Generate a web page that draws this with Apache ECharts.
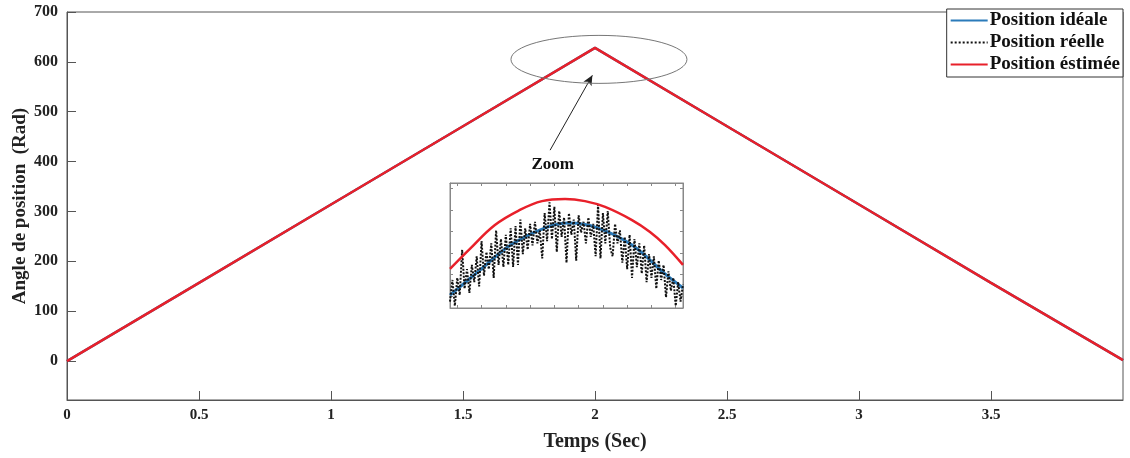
<!DOCTYPE html>
<html>
<head>
<meta charset="utf-8">
<script src="https://cdn.jsdelivr.net/npm/echarts@6/dist/echarts.min.js"></script>
<style>
  html, body { margin: 0; padding: 0; background: #fff; }
  #chart { width: 1130px; height: 458px; }
</style>
</head>
<body>
<div id="chart"></div>
<script>
// ---------- data ----------
const seriesNames = ['Position idéale', 'Position réelle', 'Position éstimée'];
const mainTime = [0, 0.5, 1, 1.5, 2, 2.5, 3, 3.5, 4];
const mainIdeal = [0, 157, 314, 471, 628, 471, 314, 157, 2];
const mainReal = [0, 157, 314, 471, 628, 471, 314, 157, 2];
const mainEstimated = [0, 157, 314, 471, 628, 471, 314, 157, 2];
const yTickValues = [0, 100, 200, 300, 400, 500, 600, 700];

// inset (zoom around the peak), sample index on x
const insetIdealX = [0, 12, 25, 39, 49, 61, 75, 88.6, 96];
const insetIdealY = [6, 17.2, 29.2, 37.1, 39.4, 37.1, 29.2, 15.8, 9.3];
const insetEstX = [0, 8.2, 18.5, 28.8, 37.9, 47.4, 55.6, 63.9, 75, 82.4, 88.6, 96];
const insetEstY = [18.1, 27.4, 38.5, 45.5, 49.6, 50.6, 49.6, 46.9, 40.8, 35.3, 29.2, 20.0];
const insetRealY = [3, 13, 1, 14, 6, 27, 9, 18, 7, 20, 12, 24, 10, 31, 15, 26, 18, 30, 14, 36,
  20, 32, 19, 34, 20, 37, 19, 38, 20, 41, 25, 37, 27, 39, 29, 40, 30, 36, 23, 44,
  31, 49, 32, 47, 26, 45, 33, 42, 21, 44, 34, 41, 22, 43, 35, 40, 30, 42, 33, 39,
  24, 48, 23, 44, 30, 45, 28, 24, 39, 30, 36, 21, 33, 18, 34, 14, 32, 19, 30, 16,
  29, 12, 25, 14, 24, 9, 22, 13, 20, 5, 17, 8, 14, 1, 12, 3, 11];
const insetXTicks = [3, 13, 23, 33, 43, 53, 63, 73, 83, 93];
const insetYTicks = [5.5, 15.5, 25.5, 35.5, 45.5, 55.5];

// annotation anchors (data coordinates of main plot)
const zoomEllipseCenter = [2.015, 605];
const zoomArrowFrom = [1.83, 423];
const zoomArrowTo = [1.99, 573];
const zoomTextAt = [1.84, 393];

// ---------- chart ----------
const FONT = "'Liberation Serif', 'Times New Roman', serif";
const RED = '#e8202a', BLUE = '#2b7bba', BLACK = '#111';
const pairs = (xs, ys) => xs.map((x, i) => [x, ys[i]]);

const chart = echarts.init(document.getElementById('chart'));
const option = {
  animation: false,
  backgroundColor: '#fff',
  textStyle: { fontFamily: FONT },
  legend: {
    data: seriesNames,
    orient: 'vertical',
    right: 7, top: 9,
    backgroundColor: '#fff',
    borderColor: '#333', borderWidth: 1,
    padding: [2, 3, 3, 3],
    itemGap: 3,
    itemWidth: 37, itemHeight: 12,
    itemStyle: { opacity: 0 },
    textStyle: { fontFamily: FONT, fontWeight: 'bold', fontSize: 19, lineHeight: 19, color: '#111', padding: [0, 0, 0, -3] }
  },
  grid: [
    { left: 67, right: 7, top: 12, bottom: 58, show: true, borderColor: '#555', borderWidth: 1, outerBoundsMode: 'none' },
    { left: 450, top: 183, width: 233, height: 125, show: true, borderColor: '#888', borderWidth: 1, backgroundColor: '#fff', z: 5, outerBoundsMode: 'none' }
  ],
  xAxis: [
    {
      type: 'value', gridIndex: 0, min: 0, max: 4, interval: 0.5,
      name: 'Temps (Sec)', nameLocation: 'middle', nameGap: 32,
      nameTextStyle: { fontFamily: FONT, fontWeight: 'bold', fontSize: 20, color: '#222' },
      axisLine: { onZero: false, lineStyle: { color: '#555' } },
      axisTick: { inside: true, length: 9, lineStyle: { color: '#555' } },
      axisLabel: { showMaxLabel: false, margin: 8, fontFamily: FONT, fontWeight: 'bold', fontSize: 15, color: '#222' },
      splitLine: { show: false }
    },
    {
      type: 'value', gridIndex: 1, min: 0, max: 96, position: 'bottom',
      axisLine: { onZero: false, lineStyle: { color: '#888' } },
      axisTick: { inside: true, length: 3, customValues: insetXTicks, lineStyle: { color: '#888' } },
      axisLabel: { show: false }, splitLine: { show: false }, z: 6
    },
    {
      type: 'value', gridIndex: 1, min: 0, max: 96, position: 'top',
      axisLine: { onZero: false, lineStyle: { color: '#888' } },
      axisTick: { inside: true, length: 3, customValues: insetXTicks, lineStyle: { color: '#888' } },
      axisLabel: { show: false }, splitLine: { show: false }, z: 6
    }
  ],
  yAxis: [
    {
      type: 'value', gridIndex: 0, min: -78, max: 700,
      name: 'Angle de position  (Rad)', nameLocation: 'middle', nameGap: 37, nameRotate: 90,
      nameMoveOverlap: false,
      nameTextStyle: { fontFamily: FONT, fontWeight: 'bold', fontSize: 19, color: '#222' },
      axisLine: { show: true, onZero: false, lineStyle: { color: '#555' } },
      axisTick: { show: true, inside: true, length: 9, customValues: yTickValues, lineStyle: { color: '#555' } },
      axisLabel: { customValues: yTickValues, margin: 9, fontFamily: FONT, fontWeight: 'bold', fontSize: 16, color: '#222' },
      splitLine: { show: false }
    },
    {
      type: 'value', gridIndex: 1, min: 0, max: 58, position: 'left',
      axisLine: { show: true, onZero: false, lineStyle: { color: '#888' } },
      axisTick: { show: true, inside: true, length: 3, customValues: insetYTicks, lineStyle: { color: '#888' } },
      axisLabel: { show: false }, splitLine: { show: false }, z: 6
    },
    {
      type: 'value', gridIndex: 1, min: 0, max: 58, position: 'right',
      axisLine: { show: true, onZero: false, lineStyle: { color: '#888' } },
      axisTick: { show: true, inside: true, length: 3, customValues: insetYTicks, lineStyle: { color: '#888' } },
      axisLabel: { show: false }, splitLine: { show: false }, z: 6
    }
  ],
  series: [
    { name: seriesNames[0], type: 'line', xAxisIndex: 0, yAxisIndex: 0, data: pairs(mainTime, mainIdeal),
      symbol: 'none', lineStyle: { color: BLUE, width: 2.5 }, itemStyle: { color: BLUE }, z: 2 },
    { name: seriesNames[1], type: 'line', xAxisIndex: 0, yAxisIndex: 0, data: pairs(mainTime, mainReal),
      symbol: 'none', lineStyle: { color: BLACK, width: 1.5, type: 'dotted' }, itemStyle: { color: BLACK }, z: 3 },
    { name: seriesNames[2], type: 'line', xAxisIndex: 0, yAxisIndex: 0, data: pairs(mainTime, mainEstimated),
      symbol: 'none', lineStyle: { color: RED, width: 2.5 }, itemStyle: { color: RED }, z: 4,
      markLine: {
        silent: true, symbol: ['none', 'arrow'], symbolSize: [7, 10],
        lineStyle: { color: '#222', width: 1, type: 'solid' }, label: { show: false },
        data: [[{ coord: zoomArrowFrom }, { coord: zoomArrowTo }]]
      }
    },
    { name: seriesNames[0], type: 'line', xAxisIndex: 1, yAxisIndex: 1, data: pairs(insetIdealX, insetIdealY),
      smooth: 0.4, symbol: 'none', lineStyle: { color: BLUE, width: 3 }, itemStyle: { color: BLUE }, z: 7 },
    { name: seriesNames[1], type: 'line', xAxisIndex: 1, yAxisIndex: 1, data: insetRealY.map((v, i) => [i, v]),
      symbol: 'none', lineStyle: { color: BLACK, width: 2, type: [2, 1.5] }, itemStyle: { color: BLACK }, z: 8 },
    { name: seriesNames[2], type: 'line', xAxisIndex: 1, yAxisIndex: 1, data: pairs(insetEstX, insetEstY),
      smooth: 0.4, symbol: 'none', lineStyle: { color: RED, width: 2.5 }, itemStyle: { color: RED }, z: 9 }
  ]
};
chart.setOption(option);

// annotations anchored in data coordinates
const c = chart.convertToPixel({ gridIndex: 0 }, zoomEllipseCenter);
const t = chart.convertToPixel({ gridIndex: 0 }, zoomTextAt);
chart.setOption({
  graphic: [
    { type: 'ellipse', shape: { cx: c[0], cy: c[1], rx: 88, ry: 24 },
      style: { fill: 'none', stroke: '#777', lineWidth: 1 }, z: 10 },
    { type: 'text', x: t[0], y: t[1],
      style: { text: 'Zoom', fill: '#111', font: "bold 17px 'Liberation Serif', serif", align: 'center', verticalAlign: 'middle' }, z: 10 }
  ]
});
</script>
</body>
</html>
